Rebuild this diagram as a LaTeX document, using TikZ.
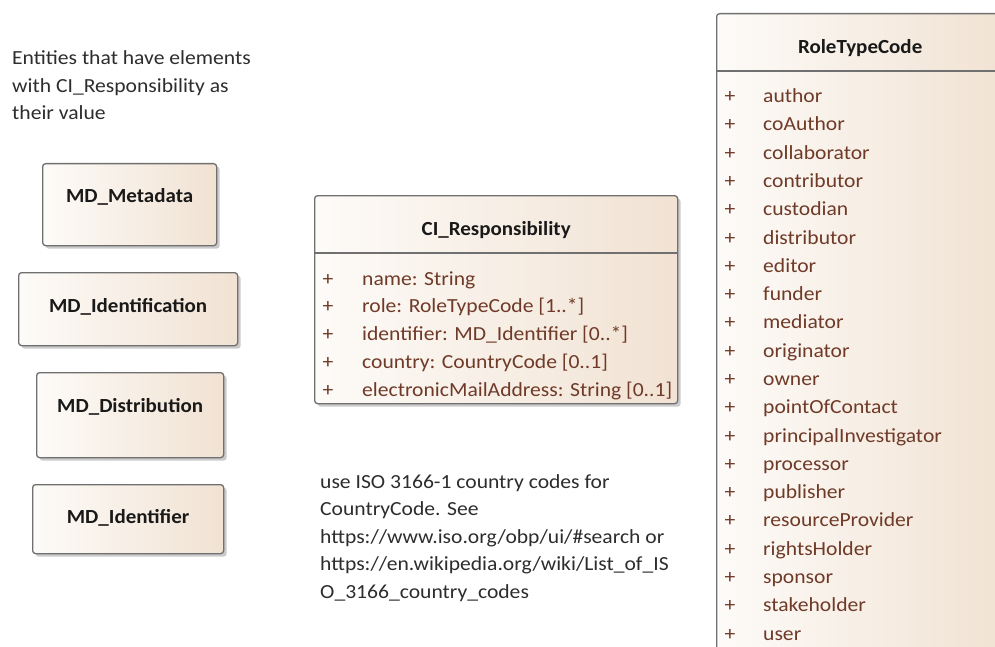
\documentclass[tikz,border=0pt]{standalone}
\usepackage{fontspec}
\setmainfont[FakeStretch=1.08]{Carlito}
\newfontfamily\titlefont[FakeStretch=1.05]{Carlito}
\usetikzlibrary{shadows}
\definecolor{boxL}{RGB}{253,251,248}
\definecolor{boxR}{RGB}{241,226,211}
\definecolor{edge}{RGB}{112,112,112}
\definecolor{attrc}{RGB}{112,58,40}
\definecolor{inkc}{RGB}{45,45,45}
\definecolor{titlec}{RGB}{25,25,25}
\begin{document}
\begin{tikzpicture}[x=1pt,y=-1pt,
  umlbox/.style={draw=edge, line width=1.3pt, rounded corners=3pt, inner sep=0pt,
    left color=boxL, right color=boxR, anchor=north west,
    drop shadow={shadow xshift=3pt, shadow yshift=-3pt, fill=black!40, opacity=0.5}},
  titletxt/.style={font=\titlefont\fontsize{20}{22}\selectfont\bfseries, text=titlec, inner sep=0pt, anchor=base},
  attrtxt/.style={font=\fontsize{20}{22}\selectfont, text=attrc, inner sep=0pt, anchor=base west},
  plustxt/.style={font=\fontsize{20}{22}\selectfont, text=attrc, inner sep=0pt, anchor=base},
  notetxt/.style={font=\fontsize{20}{22}\selectfont, text=inkc, inner sep=0pt, anchor=base west},
  sepline/.style={draw=edge, line width=1.3pt}
]
\clip (0,0) rectangle (995,647);
\fill[white] (0,0) rectangle (995,647);

% note top-left
\node[notetxt] (n1) at (12,65) {Entities that have elements};
\node[notetxt] (n2) at (12,92.5) {with CI\_Responsibility as};
\node[notetxt] (n3) at (12,120) {their value};

% left boxes
\node[umlbox, minimum width=174pt, minimum height=82pt] (meta) at (42,163) {};
\node[titletxt] (metaT) at ([yshift=-40pt]meta.north) {MD\_Metadata};
\node[umlbox, minimum width=219pt, minimum height=73pt] (ident) at (18,272) {};
\node[titletxt] (identT) at ([yshift=-40pt]ident.north) {MD\_Identification};
\node[umlbox, minimum width=187pt, minimum height=85pt] (dist) at (36,372) {};
\node[titletxt] (distT) at ([yshift=-40pt]dist.north) {MD\_Distribution};
\node[umlbox, minimum width=191pt, minimum height=69pt] (idf) at (32,484) {};
\node[titletxt] (idfT) at ([yshift=-39pt]idf.north) {MD\_Identifier};

% CI_Responsibility
\node[umlbox, minimum width=363pt, minimum height=208pt] (ci) at (314,195) {};
\node[titletxt] (ciT) at ([yshift=-40pt]ci.north) {CI\_Responsibility};
\draw[sepline] ([yshift=-58pt]ci.north west) -- ([yshift=-58pt]ci.north east);
\foreach \t [count=\i from 0] in {name: String, role: RoleTypeCode [1..*], identifier: MD\_Identifier [0..*], country: CountryCode [0..1], electronicMailAddress: String [0..1]} {
  \node[plustxt] (cip\i) at (328,{285+27.8*\i}) {+};
  \node[attrtxt] (cia\i) at (362,{285+27.8*\i}) {\t};
}

% note bottom
\node[notetxt] (b1) at (320,488) {use ISO 3166-1 country codes for};
\node[notetxt] (b2) at (320,515.5) {CountryCode. See};
\node[notetxt] (b3) at (320,543) {https://www.iso.org/obp/ui/\#search or};
\node[notetxt] (b4) at (320,570.5) {https://en.wikipedia.org/wiki/List\_of\_IS};
\node[notetxt] (b5) at (320,598) {O\_3166\_country\_codes};

% RoleTypeCode
\node[umlbox, minimum width=287pt, minimum height=680pt] (rt) at (716,13) {};
\node[titletxt] (rtT) at ([yshift=-41pt]rt.north) {RoleTypeCode};
\draw[sepline] ([yshift=-58pt]rt.north west) -- ([yshift=-58pt]rt.north east);
\foreach \t [count=\i from 0] in {author, coAuthor, collaborator, contributor, custodian, distributor, editor, funder, mediator, originator, owner, pointOfContact, principalInvestigator, processor, publisher, resourceProvider, rightsHolder, sponsor, stakeholder, user} {
  \node[plustxt] (rtp\i) at (730,{102.7+28.28*\i}) {+};
  \node[attrtxt] (rta\i) at (763,{102.7+28.28*\i}) {\t};
}
\end{tikzpicture}
\end{document}
